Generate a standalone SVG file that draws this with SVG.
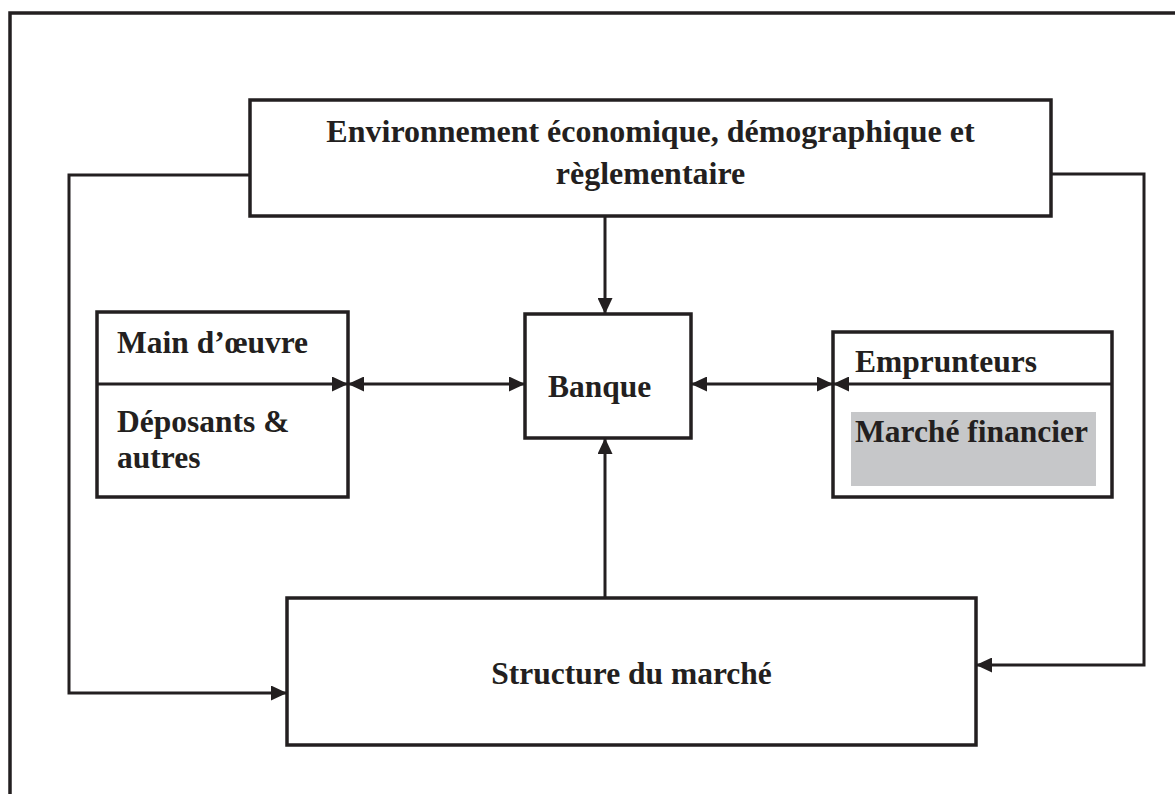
<svg xmlns="http://www.w3.org/2000/svg" width="1175" height="794" viewBox="0 0 1175 794">
<style>
.box{fill:#ffffff;stroke:#231f20;stroke-width:3.5}
.ln{fill:none;stroke:#231f20;stroke-width:3}
.t{font-family:"Liberation Serif","Times New Roman",serif;font-weight:bold;font-size:31.5px;fill:#231f20}
.tc{text-anchor:middle}
</style>
<defs>
<marker id="ah" markerUnits="userSpaceOnUse" markerWidth="16" markerHeight="15" refX="16" refY="7.5" orient="auto-start-reverse" viewBox="0 0 16 15">
<path d="M0,0 L16,7.5 L0,15 z" fill="#231f20"/>
</marker>
</defs>
<rect x="0" y="0" width="1175" height="794" fill="#ffffff"/>
<path d="M10,794 V13 H1175" fill="none" stroke="#231f20" stroke-width="3.5"/>
<g id="env">
<rect class="box" x="250" y="100" width="801" height="116"/>
<text class="t tc" x="650.5" y="142" style="font-size:32px">Environnement économique, démographique et</text>
<text class="t tc" x="650.5" y="184" style="font-size:32px">règlementaire</text>
</g>
<g id="banque">
<rect class="box" x="525" y="314" width="166" height="124"/>
<text class="t" x="548" y="397">Banque</text>
</g>
<g id="main-oeuvre">
<rect class="box" x="97" y="312" width="251" height="185"/>
<text class="t" x="117" y="353">Main d’œuvre</text>
<text class="t" x="117" y="432">Déposants &amp;</text>
<text class="t" x="117" y="468">autres</text>
</g>
<g id="emprunteurs">
<rect class="box" x="833" y="332" width="279" height="165"/>
<rect x="851" y="412" width="245" height="74" fill="#c6c7c9"/>
<text class="t" x="855" y="372">Emprunteurs</text>
<text class="t" x="855" y="442">Marché financier</text>
</g>
<g id="structure">
<rect class="box" x="287" y="598" width="689" height="147"/>
<text class="t tc" x="631.5" y="684">Structure du marché</text>
</g>
<g id="connectors">
<path class="ln" d="M605,216 V314" marker-end="url(#ah)"/>
<path class="ln" d="M605,598 V438" marker-end="url(#ah)"/>
<path class="ln" d="M250,175 H69 V693 H287" marker-end="url(#ah)"/>
<path class="ln" d="M1051,174 H1144 V665 H976" marker-end="url(#ah)"/>
<path class="ln" d="M97,384 H348" marker-end="url(#ah)"/>
<path class="ln" d="M348,384 H525" marker-start="url(#ah)" marker-end="url(#ah)"/>
<path class="ln" d="M691,384 H833" marker-start="url(#ah)" marker-end="url(#ah)"/>
<path class="ln" d="M1112,384 H833" marker-end="url(#ah)"/>
</g>
</svg>
